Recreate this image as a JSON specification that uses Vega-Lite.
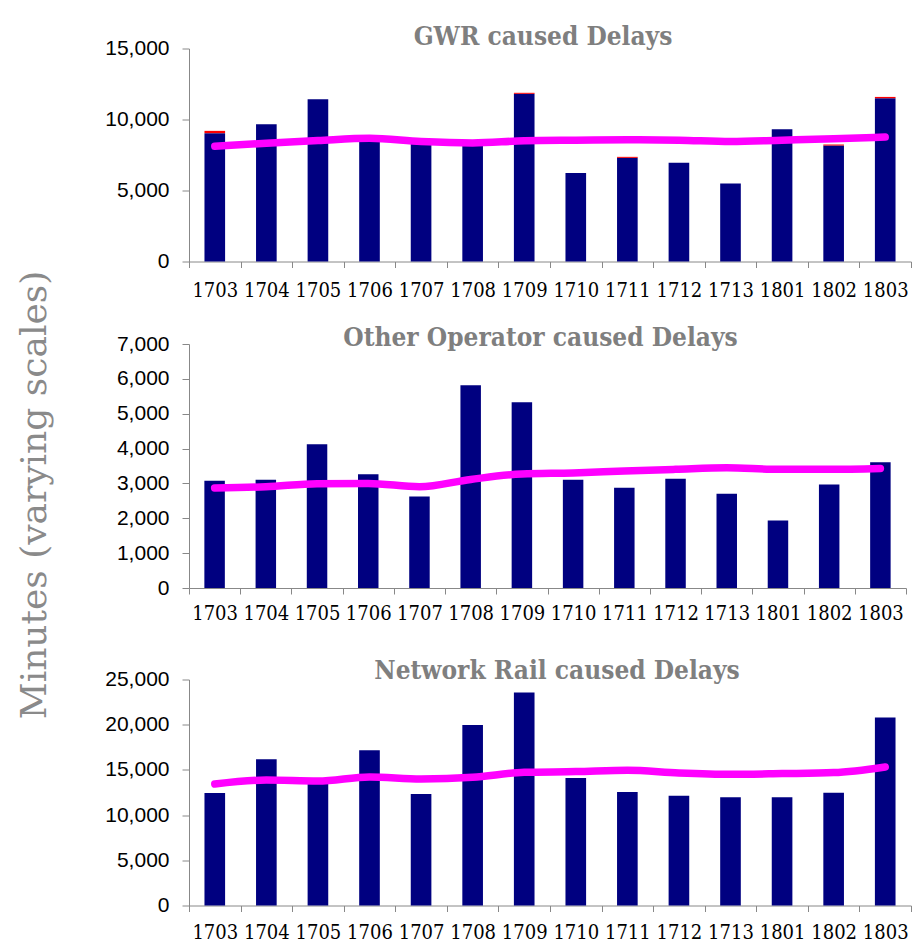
{
  "$schema": "https://vega.github.io/schema/vega-lite/v6.json",
  "padding": {"left": 16, "top": 23.5, "right": 0, "bottom": 0},
  "background": "#ffffff",
  "title": {"text": "Minutes (varying scales)", "orient": "left", "anchor": "middle", "font": "DejaVu Serif", "fontSize": 36, "fontWeight": "normal", "color": "#8a8a8a", "offset": 17, "baseline": "alphabetic", "dx": -12},
  "spacing": 24.5,
  "align": "none",
  "bounds": "full",
  "config": {
    "view": {"stroke": null},
    "axisY": {"grid": false, "tickSize": 7, "labelPadding": 13, "labelFont": "Liberation Sans", "labelFontSize": 21, "labelColor": "#000000", "labelOverlap": false, "domainColor": "#888888", "tickColor": "#888888"},
    "axisX": {"grid": false, "tickBand": "extent", "tickSize": 6, "labelPadding": 13, "labelFont": "DejaVu Serif Condensed", "labelFontSize": 20, "labelColor": "#000000", "labelAngle": 0, "labelOverlap": false, "domainColor": "#888888", "tickColor": "#888888"}
  },
  "datasets": {
    "gwr": [
      {"period": "1703", "type": "GWR", "minutes": 9040},
      {"period": "1704", "type": "GWR", "minutes": 9670},
      {"period": "1705", "type": "GWR", "minutes": 11430},
      {"period": "1706", "type": "GWR", "minutes": 8850},
      {"period": "1707", "type": "GWR", "minutes": 8400},
      {"period": "1708", "type": "GWR", "minutes": 8200},
      {"period": "1709", "type": "GWR", "minutes": 11810},
      {"period": "1710", "type": "GWR", "minutes": 6240},
      {"period": "1711", "type": "GWR", "minutes": 7300},
      {"period": "1712", "type": "GWR", "minutes": 6950},
      {"period": "1713", "type": "GWR", "minutes": 5490},
      {"period": "1801", "type": "GWR", "minutes": 9320},
      {"period": "1802", "type": "GWR", "minutes": 8170},
      {"period": "1803", "type": "GWR", "minutes": 11500},
      {"period": "1703", "type": "GWR other", "minutes": 160},
      {"period": "1709", "type": "GWR other", "minutes": 70},
      {"period": "1711", "type": "GWR other", "minutes": 70},
      {"period": "1802", "type": "GWR other", "minutes": 70},
      {"period": "1803", "type": "GWR other", "minutes": 90}
    ],
    "gwrTrend": [
      {"period": "1703", "minutes": 8120},
      {"period": "1704", "minutes": 8330},
      {"period": "1705", "minutes": 8520},
      {"period": "1706", "minutes": 8680},
      {"period": "1707", "minutes": 8450},
      {"period": "1708", "minutes": 8350},
      {"period": "1709", "minutes": 8500},
      {"period": "1710", "minutes": 8540},
      {"period": "1711", "minutes": 8570},
      {"period": "1712", "minutes": 8540},
      {"period": "1713", "minutes": 8450},
      {"period": "1801", "minutes": 8540},
      {"period": "1802", "minutes": 8640},
      {"period": "1803", "minutes": 8760}
    ],
    "other": [
      {"period": "1703", "minutes": 3080},
      {"period": "1704", "minutes": 3105},
      {"period": "1705", "minutes": 4125},
      {"period": "1706", "minutes": 3260},
      {"period": "1707", "minutes": 2625},
      {"period": "1708", "minutes": 5820},
      {"period": "1709", "minutes": 5330},
      {"period": "1710", "minutes": 3105},
      {"period": "1711", "minutes": 2875},
      {"period": "1712", "minutes": 3135},
      {"period": "1713", "minutes": 2705},
      {"period": "1801", "minutes": 1935},
      {"period": "1802", "minutes": 2970},
      {"period": "1803", "minutes": 3605}
    ],
    "otherTrend": [
      {"period": "1703", "minutes": 2870},
      {"period": "1704", "minutes": 2905},
      {"period": "1705", "minutes": 2990},
      {"period": "1706", "minutes": 3000},
      {"period": "1707", "minutes": 2905},
      {"period": "1708", "minutes": 3115},
      {"period": "1709", "minutes": 3270},
      {"period": "1710", "minutes": 3300},
      {"period": "1711", "minutes": 3355},
      {"period": "1712", "minutes": 3405},
      {"period": "1713", "minutes": 3450},
      {"period": "1801", "minutes": 3405},
      {"period": "1802", "minutes": 3405},
      {"period": "1803", "minutes": 3430}
    ],
    "nr": [
      {"period": "1703", "minutes": 12440},
      {"period": "1704", "minutes": 16170},
      {"period": "1705", "minutes": 13480},
      {"period": "1706", "minutes": 17170},
      {"period": "1707", "minutes": 12330},
      {"period": "1708", "minutes": 19980},
      {"period": "1709", "minutes": 23560},
      {"period": "1710", "minutes": 14110},
      {"period": "1711", "minutes": 12560},
      {"period": "1712", "minutes": 12150},
      {"period": "1713", "minutes": 11970},
      {"period": "1801", "minutes": 11970},
      {"period": "1802", "minutes": 12480},
      {"period": "1803", "minutes": 20790}
    ],
    "nrTrend": [
      {"period": "1703", "minutes": 13440},
      {"period": "1704", "minutes": 13880},
      {"period": "1705", "minutes": 13770},
      {"period": "1706", "minutes": 14220},
      {"period": "1707", "minutes": 14000},
      {"period": "1708", "minutes": 14180},
      {"period": "1709", "minutes": 14730},
      {"period": "1710", "minutes": 14810},
      {"period": "1711", "minutes": 14960},
      {"period": "1712", "minutes": 14660},
      {"period": "1713", "minutes": 14510},
      {"period": "1801", "minutes": 14590},
      {"period": "1802", "minutes": 14700},
      {"period": "1803", "minutes": 15330}
    ]
  },
  "vconcat": [
    {
      "width": 722,
      "height": 213,
      "title": {"text": "GWR caused Delays", "font": "DejaVu Serif Condensed", "fontSize": 26, "fontWeight": "bold", "color": "#7f7f7f", "anchor": "middle", "baseline": "alphabetic", "offset": -33, "dx": -7},
      "encoding": {
        "x": {"field": "period", "type": "ordinal", "scale": {"paddingInner": 0, "paddingOuter": 0}, "axis": {"title": null, "labelPadding": 13, "minExtent": 39}},
        "y": {"field": "minutes", "type": "quantitative", "scale": {"domain": [0, 15000], "nice": false}, "axis": {"title": null, "values": [0, 5000, 10000, 15000], "format": ",d", "minExtent": 90}}
      },
      "layer": [
        {
          "data": {"name": "gwr"},
          "mark": {"type": "bar", "width": {"band": 0.4}},
          "encoding": {
            "color": {"field": "type", "type": "nominal", "scale": {"domain": ["GWR", "GWR other"], "range": ["#000080", "#ff0000"]}, "legend": null},
            "order": {"field": "type", "sort": "ascending"}
          }
        },
        {
          "data": {"name": "gwrTrend"},
          "mark": {"type": "line", "color": "#ff00ff", "strokeWidth": 7.5, "strokeCap": "round", "interpolate": "monotone"},
          "encoding": {}
        }
      ]
    },
    {
      "width": 717,
      "height": 244,
      "title": {"text": "Other Operator caused Delays", "font": "DejaVu Serif Condensed", "fontSize": 26, "fontWeight": "bold", "color": "#7f7f7f", "anchor": "middle", "baseline": "alphabetic", "offset": -39, "dx": -7},
      "encoding": {
        "x": {"field": "period", "type": "ordinal", "scale": {"paddingInner": 0, "paddingOuter": 0}, "axis": {"title": null, "labelPadding": 9, "minExtent": 44.5}},
        "y": {"field": "minutes", "type": "quantitative", "scale": {"domain": [0, 7000], "nice": false}, "axis": {"title": null, "values": [0, 1000, 2000, 3000, 4000, 5000, 6000, 7000], "format": ",d", "minExtent": 60}}
      },
      "layer": [
        {
          "data": {"name": "other"},
          "mark": {"type": "bar", "width": {"band": 0.4}, "color": "#000080"},
          "encoding": {}
        },
        {
          "data": {"name": "otherTrend"},
          "mark": {"type": "line", "color": "#ff00ff", "strokeWidth": 7.5, "strokeCap": "round", "interpolate": "monotone"},
          "encoding": {}
        }
      ]
    },
    {
      "width": 722,
      "height": 226,
      "title": {"text": "Network Rail caused Delays", "font": "DejaVu Serif Condensed", "fontSize": 26, "fontWeight": "bold", "color": "#7f7f7f", "anchor": "middle", "baseline": "alphabetic", "offset": -36, "dx": 7},
      "encoding": {
        "x": {"field": "period", "type": "ordinal", "scale": {"paddingInner": 0, "paddingOuter": 0}, "axis": {"title": null, "labelPadding": 10.5, "minExtent": 37}},
        "y": {"field": "minutes", "type": "quantitative", "scale": {"domain": [0, 25000], "nice": false}, "axis": {"title": null, "values": [0, 5000, 10000, 15000, 20000, 25000], "format": ",d", "minExtent": 88}}
      },
      "layer": [
        {
          "data": {"name": "nr"},
          "mark": {"type": "bar", "width": {"band": 0.4}, "color": "#000080"},
          "encoding": {}
        },
        {
          "data": {"name": "nrTrend"},
          "mark": {"type": "line", "color": "#ff00ff", "strokeWidth": 7.5, "strokeCap": "round", "interpolate": "monotone"},
          "encoding": {}
        }
      ]
    }
  ]
}
